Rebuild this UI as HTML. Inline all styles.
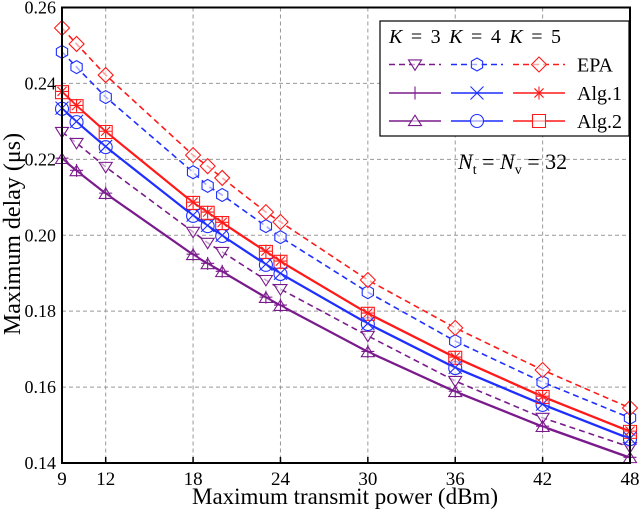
<!DOCTYPE html>
<html><head><meta charset="utf-8"><style>
body{margin:0;background:#fff;}
svg text{font-family:"Liberation Serif",serif;}
</style></head><body>
<svg id="chart" width="640" height="513" xmlns="http://www.w3.org/2000/svg">
<g id="grid"></g>
<g id="series"></g>
<rect x="62" y="7.5" width="568" height="455.5" fill="none" stroke="#000" stroke-width="2"/>
<g id="ticks"></g>
<text x="345" y="504" font-size="23" text-anchor="middle">Maximum transmit power (dBm)</text>
<text transform="translate(20,234) rotate(-90)" font-size="24" text-anchor="middle">Maximum delay (μs)</text>
<g>
<rect x="380" y="21" width="249" height="115" fill="#fff" stroke="#000" stroke-width="1.2"/>
<text x="389" y="43" font-size="20" textLength="172"><tspan font-style="italic">K</tspan> = 3  <tspan font-style="italic">K</tspan> = 4  <tspan font-style="italic">K</tspan> = 5</text>
<g id="legrows"></g>
</g>
<text x="458" y="169" font-size="22"><tspan font-style="italic">N</tspan><tspan font-size="14" dy="5">t</tspan><tspan dy="-5"> = </tspan><tspan font-style="italic">N</tspan><tspan font-size="14" dy="5">v</tspan><tspan dy="-5"> = 32</tspan></text>
</svg>
<script>
const xVals=[9,10,12,18,19,20,23,24,30,36,42,48];
const xTicks=[9,12,18,24,30,36,42,48];
const yTicks=[0.14,0.16,0.18,0.20,0.22,0.24,0.26];
const epaK3=[0.2272,0.2243,0.2180,0.2009,0.1980,0.1956,0.1882,0.1858,0.1735,0.1616,0.1519,0.1442];
const epaK4=[0.2483,0.2443,0.2364,0.2166,0.2130,0.2106,0.2024,0.1995,0.1850,0.1721,0.1613,0.1519];
const epaK5=[0.2546,0.2504,0.2422,0.2211,0.2182,0.2151,0.2061,0.2035,0.1882,0.1756,0.1645,0.1545];
const alg1K3=[0.2203,0.2171,0.2111,0.1950,0.1926,0.1905,0.1837,0.1816,0.1694,0.1589,0.1497,0.1415];
const alg1K4=[0.2335,0.2300,0.2234,0.2053,0.2026,0.2000,0.1924,0.1900,0.1768,0.1652,0.1555,0.1465];
const alg1K5=[0.2379,0.2342,0.2274,0.2087,0.2061,0.2034,0.1958,0.1932,0.1795,0.1679,0.1576,0.1484];
const alg2K3=[0.2201,0.2169,0.2109,0.1948,0.1924,0.1903,0.1835,0.1814,0.1692,0.1587,0.1495,0.1413];
const alg2K4=[0.2333,0.2298,0.2232,0.2051,0.2024,0.1998,0.1922,0.1898,0.1766,0.1650,0.1553,0.1463];
const alg2K5=[0.2377,0.2340,0.2272,0.2085,0.2059,0.2032,0.1956,0.1930,0.1793,0.1677,0.1574,0.1482];
const NS="http://www.w3.org/2000/svg";
const X=v=>62+(v-9)*(568/39);
const Y=v=>463-(v-0.14)*(455.5/0.12);
const PUR="#7a1b8c",BLU="#1f2fff",RED="#ff1a1a";
function mk(tag,attrs,parent){const e=document.createElementNS(NS,tag);for(const k in attrs)e.setAttribute(k,attrs[k]);parent.appendChild(e);return e;}
const grid=document.getElementById('grid'),ticks=document.getElementById('ticks'),ser=document.getElementById('series');
xTicks.forEach(t=>{
 if(t>9&&t<48){const l=mk('line',{x1:X(t),x2:X(t),y1:7.5,y2:463,stroke:'#999','stroke-dasharray':'4,3'},grid);
 
 }
 const tk=mk('line',{x1:X(t),x2:X(t),y1:463,y2:457,stroke:'#000','stroke-width':1.5},ticks);
 
 
 const tx=mk('text',{x:X(t),y:485,'font-size':19,'text-anchor':'middle'},ticks);tx.textContent=t;
 
 
});
yTicks.forEach(t=>{
 if(t>0.14&&t<0.26){const l=mk('line',{x1:62,x2:630,y1:Y(t),y2:Y(t),stroke:'#999','stroke-dasharray':'4,3'},grid);
 
 }
 const tx=mk('text',{x:56,y:Y(t)+6,'font-size':18,'text-anchor':'end'},ticks);tx.textContent=t.toFixed(2);
 
 
});
function marker(type,x,y,c,g){
 const s=6.5;let d;
 if(type==='dtri')d=`M${x-s},${y-s*0.7}L${x+s},${y-s*0.7}L${x},${y+s*0.9}Z`;
 else if(type==='utri')d=`M${x-s},${y+s*0.7}L${x+s},${y+s*0.7}L${x},${y-s*0.9}Z`;
 else if(type==='diam')d=`M${x},${y-s-1}L${x+s+1},${y}L${x},${y+s+1}L${x-s-1},${y}Z`;
 else if(type==='hex'){d='';for(let i=0;i<6;i++){const a=Math.PI/3*i+Math.PI/6;d+=(i?'L':'M')+(x+s*Math.cos(a))+','+(y+s*Math.sin(a));}d+='Z';}
 else if(type==='sq')d=`M${x-s},${y-s}h${2*s}v${2*s}h${-2*s}Z`;
 else if(type==='circ')d=`M${x-s},${y}a${s},${s} 0 1,0 ${2*s},0a${s},${s} 0 1,0 ${-2*s},0`;
 else if(type==='plus')d=`M${x-s},${y}h${2*s}M${x},${y-s}v${2*s}`;
 else if(type==='x')d=`M${x-s},${y-s}L${x+s},${y+s}M${x+s},${y-s}L${x-s},${y+s}`;
 else if(type==='star')d=`M${x-s},${y}h${2*s}M${x},${y-s}v${2*s}M${x-s*0.7},${y-s*0.7}L${x+s*0.7},${y+s*0.7}M${x+s*0.7},${y-s*0.7}L${x-s*0.7},${y+s*0.7}`;
 const p=mk('path',{d:d,fill:'#fff','fill-opacity':(type==='plus'||type==='x'||type==='star')?0:0.6,stroke:c,'stroke-width':1.1},g);
 
 
}
const seriesList=[
 [epaK3,PUR,true,'dtri','epa-k3'],[epaK4,BLU,true,'hex','epa-k4'],[epaK5,RED,true,'diam','epa-k5'],
 [alg2K3,PUR,false,'utri','alg2-k3'],[alg2K4,BLU,false,'circ','alg2-k4'],[alg2K5,RED,false,'sq','alg2-k5'],
 [alg1K3,PUR,false,'plus','alg1-k3'],[alg1K4,BLU,false,'x','alg1-k4'],[alg1K5,RED,false,'star','alg1-k5']];
seriesList.forEach(([vals,c,dash,m,name])=>{
 const g=mk('g',{},ser);
 
 
 const pts=vals.map((v,i)=>X(xVals[i])+','+Y(v)).join(' ');
 const pl=mk('polyline',{points:pts,fill:'none',stroke:c,'stroke-width':1.6,'stroke-dasharray':dash?'6,4':'none'},g);
 
 
 vals.forEach((v,i)=>marker(m,X(xVals[i]),Y(v),c,g));
});
const lr=document.getElementById('legrows');
const rows=[['EPA',true,['dtri','hex','diam'],64.5],['Alg.1',false,['plus','x','star'],93],['Alg.2',false,['utri','circ','sq'],121]];
const cols=[[PUR,389,441],[BLU,451,503],[RED,513,565]];
rows.forEach(([lab,dash,ms,y])=>{
 cols.forEach(([c,x1,x2],j)=>{
  const l=mk('line',{x1:x1,x2:x2,y1:y,y2:y,stroke:c,'stroke-width':1.6,'stroke-dasharray':dash?'6,4':'none'},lr);
  
  
  marker(ms[j],(x1+x2)/2,y,c,lr);
 });
 const t=mk('text',{x:577,y:y+7,'font-size':20},lr);t.textContent=lab;
 
 
});
</script>
</body></html>
